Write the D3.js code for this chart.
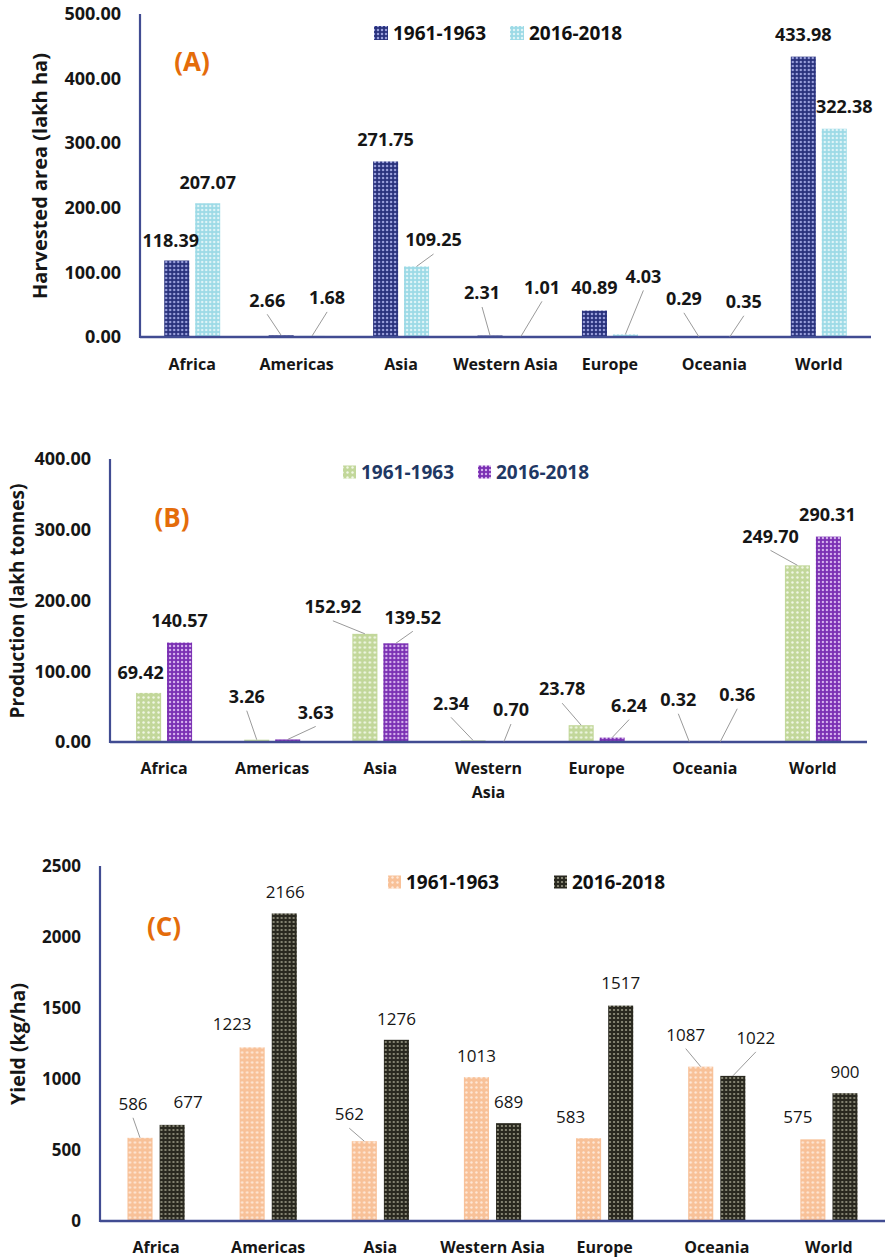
<!DOCTYPE html>
<html>
<head>
<meta charset="utf-8">
<script src="https://cdn.jsdelivr.net/npm/d3@7"></script>
<style>
  html, body { margin: 0; padding: 0; background: #fff; }
  svg { display: block; font-family: "Open Sans", "Noto Sans", sans-serif; }
</style>
</head>
<body>
<svg id="chart" width="885" height="1259"></svg>
<script>
// Regions and periods shared by the three panels
const regions = ["Africa", "Americas", "Asia", "Western Asia", "Europe", "Oceania", "World"];
const periods = ["1961-1963", "2016-2018"];

// (A) Harvested area, lakh ha
const areaEarly = [118.39, 2.66, 271.75, 2.31, 40.89, 0.29, 433.98];
const areaLate  = [207.07, 1.68, 109.25, 1.01, 4.03, 0.35, 322.38];
const areaTicks = [0, 100, 200, 300, 400, 500];

// (B) Production, lakh tonnes
const prodEarly = [69.42, 3.26, 152.92, 2.34, 23.78, 0.32, 249.70];
const prodLate  = [140.57, 3.63, 139.52, 0.70, 6.24, 0.36, 290.31];
const prodTicks = [0, 100, 200, 300, 400];

// (C) Yield, kg/ha
const yieldEarly = [586, 1223, 562, 1013, 583, 1087, 575];
const yieldLate  = [677, 2166, 1276, 689, 1517, 1022, 900];
const yieldTicks = [0, 500, 1000, 1500, 2000, 2500];

const svg = d3.select("#chart");
const defs = svg.append("defs");

// Dotted fills for the bars
function dotPattern(id, base, dot, size, r) {
  const p = defs.append("pattern").attr("id", id)
    .attr("patternUnits", "userSpaceOnUse").attr("width", size).attr("height", size);
  p.append("rect").attr("width", size).attr("height", size).attr("fill", base);
  p.append("circle").attr("cx", size / 2).attr("cy", size / 2).attr("r", r).attr("fill", dot);
  return `url(#${id})`;
}
const fills = {
  navy:   dotPattern("pNavy", "#28317c", "#9aa0dc", 4, 1.25),
  sky:    dotPattern("pSky", "#9cdae6", "#e0f5f8", 4, 1.25),
  green:  dotPattern("pGreen", "#c2d79a", "#f1f7e6", 5, 1.2),
  purple: dotPattern("pPurple", "#7a2fb3", "#d6b3ee", 4, 1.2),
  peach:  dotPattern("pPeach", "#f8c198", "#fee8d8", 5, 1.2),
  dark:   dotPattern("pDark", "#29281f", "#9a9985", 4, 1.1)
};
const legendFills = {
  navy: fills.navy, sky: fills.sky, green: fills.green, purple: fills.purple, peach: fills.peach, dark: fills.dark
};

const axisColor = "#414c92";
const labelColor = "#161616";

function drawPanel(cfg) {
  const g = svg.append("g");
  const y = d3.scaleLinear().domain(cfg.domain).range([cfg.bottom, cfg.top]);
  const x0 = d3.scaleBand().domain(regions).range([cfg.left, cfg.right])
    .paddingInner(cfg.pad).paddingOuter(cfg.pad / 2);
  const x1 = d3.scaleBand().domain(periods).range([0, x0.bandwidth()]).paddingInner(cfg.gap);

  // y tick labels (no tick marks, no gridlines)
  const yAxis = d3.axisLeft(y).tickValues(cfg.ticks).tickSize(0).tickPadding(0)
    .tickFormat(cfg.tickFormat);
  const ya = g.append("g").attr("transform", `translate(${cfg.tickX},0)`).call(yAxis);
  ya.select(".domain").remove();
  ya.selectAll("text").attr("font-size", cfg.tickSize).attr("font-weight", 700)
    .attr("fill", labelColor).attr("font-family", "Open Sans");

  // bars
  const rows = regions.map((r, i) => ({ region: r, vals: [cfg.early[i], cfg.late[i]] }));
  const grp = g.selectAll(".grp").data(rows).join("g")
    .attr("transform", d => `translate(${x0(d.region)},0)`);
  grp.selectAll("rect").data(d => d.vals.map((v, k) => ({ v, k }))).join("rect")
    .attr("x", d => x1(periods[d.k]))
    .attr("width", x1.bandwidth())
    .attr("y", d => y(d.v))
    .attr("height", d => cfg.bottom - y(d.v))
    .attr("fill", d => cfg.fills[d.k]);

  // axis lines
  g.append("line").attr("x1", cfg.left).attr("x2", cfg.left)
    .attr("y1", cfg.top).attr("y2", cfg.bottom + 1)
    .attr("stroke", axisColor).attr("stroke-width", 2.2);
  g.append("line").attr("x1", cfg.left).attr("x2", cfg.right)
    .attr("y1", cfg.bottom).attr("y2", cfg.bottom)
    .attr("stroke", axisColor).attr("stroke-width", 2.6);

  // category labels
  const xa = g.append("g").attr("transform", `translate(0,${cfg.catY})`)
    .call(d3.axisBottom(x0).tickSize(0).tickPadding(0));
  xa.select(".domain").remove();
  xa.selectAll("text").remove();
  xa.selectAll(".tick").each(function(d) {
    const t = d3.select(this).append("text").attr("text-anchor", "middle")
      .attr("font-size", 16).attr("font-weight", 700).attr("fill", labelColor)
      .attr("font-family", "Open Sans");
    const lines = cfg.wrap && d === "Western Asia" ? ["Western", "Asia"] : [d];
    lines.forEach((ln, j) => t.append("tspan").attr("x", 0).attr("y", j * 24).attr("dy", "0.35em").text(ln));
  });

  // value labels, with leader lines when the label sits well above its bar
  regions.forEach((r, i) => {
    [cfg.early[i], cfg.late[i]].forEach((v, k) => {
      const bx = x0(r) + x1(periods[k]) + x1.bandwidth() / 2;
      const by = y(v);
      const [dx, dy] = cfg.nudge[k][i];
      const lx = bx + dx, ly = by + dy;
      if (dy < -25) {
        g.append("line").attr("x1", lx).attr("y1", ly + 14).attr("x2", bx).attr("y2", by)
          .attr("stroke", "#9a9a9a").attr("stroke-width", 1);
      }
      g.append("text").attr("x", lx).attr("y", ly).attr("dy", "0.35em")
        .attr("text-anchor", "middle").attr("font-size", cfg.valueSize)
        .attr("font-weight", cfg.valueWeight).attr("fill", labelColor)
        .attr("font-family", "Open Sans")
        .text(cfg.valueFormat(v));
    });
  });

  // legend
  cfg.legend.forEach((L, k) => {
    g.append("rect").attr("x", L.x).attr("y", cfg.legendY - L.s / 2)
      .attr("width", L.s).attr("height", L.s).attr("fill", cfg.legendFills[k]);
    g.append("text").attr("x", L.x + L.s + 5).attr("y", cfg.legendY).attr("dy", "0.35em")
      .attr("font-size", 19).attr("font-weight", 700).attr("fill", cfg.legendColor)
      .attr("font-family", "Open Sans").text(periods[k]);
  });

  // panel tag
  g.append("text").attr("x", cfg.tag.x).attr("y", cfg.tag.y).attr("dy", "0.35em")
    .attr("text-anchor", "middle").attr("font-size", 26).attr("font-weight", 700)
    .attr("fill", "#e46c0a").attr("font-family", "Open Sans").text(cfg.tag.text);

  // y axis title
  g.append("text").attr("transform", `translate(${cfg.title.x},${cfg.title.y}) rotate(-90)`)
    .attr("dy", "0.35em").attr("text-anchor", "middle")
    .attr("font-size", cfg.title.size).attr("font-weight", 700).attr("fill", labelColor)
    .attr("font-family", "Open Sans").text(cfg.title.text);
}

drawPanel({
  domain: [0, 500], ticks: areaTicks, tickFormat: d3.format(".2f"),
  top: 14, bottom: 337, left: 140, right: 871, pad: 0.464, gap: 0.19,
  tickX: 121, tickSize: 18, catY: 364,
  early: areaEarly, late: areaLate,
  fills: [fills.navy, fills.sky], legendFills: [legendFills.navy, legendFills.sky],
  valueSize: 18, valueWeight: 700, valueFormat: d3.format(".2f"),
  nudge: [
    [[-6, -19.5], [-14, -35], [0, -21.5], [-8, -42.5], [0, -22.5], [-15, -38], [0, -21.7]],
    [[0, -21], [15, -38], [17, -26.4], [21, -49], [18, -58], [14, -35], [10, -22]]
  ],
  legendY: 33, legendColor: "#111",
  legend: [{ x: 374, s: 14 }, { x: 510, s: 14 }],
  tag: { x: 192, y: 62, text: "(A)" },
  title: { x: 40, y: 176, size: 20, text: "Harvested area (lakh ha)" }
});

drawPanel({
  domain: [0, 400], ticks: prodTicks, tickFormat: d3.format(".2f"),
  top: 459, bottom: 742, left: 110, right: 867, pad: 0.482, gap: 0.19,
  tickX: 91, tickSize: 18, catY: 768, wrap: true,
  early: prodEarly, late: prodLate,
  fills: [fills.green, fills.purple], legendFills: [legendFills.green, legendFills.purple],
  valueSize: 18, valueWeight: 700, valueFormat: d3.format(".2f"),
  nudge: [
    [[-8, -20], [-10, -43], [-32, -27], [-22, -37], [-19, -36], [-11, -42], [-27, -29]],
    [[0, -21.5], [28, -27], [17, -26], [7, -31.5], [17, -32], [17, -47], [-1, -21.6]]
  ],
  legendY: 472, legendColor: "#1f3864",
  legend: [{ x: 343, s: 13 }, { x: 478, s: 13 }],
  tag: { x: 172, y: 518, text: "(B)" },
  title: { x: 17, y: 601, size: 19, text: "Production (lakh tonnes)" }
});

drawPanel({
  domain: [0, 2500], ticks: yieldTicks, tickFormat: d3.format("d"),
  top: 866, bottom: 1221, left: 100, right: 885, pad: 0.49, gap: 0.22,
  tickX: 81, tickSize: 17, catY: 1247,
  early: yieldEarly, late: yieldLate,
  fills: [fills.peach, fills.dark], legendFills: [legendFills.peach, legendFills.dark],
  valueSize: 17, valueWeight: 400, valueFormat: d3.format("d"),
  nudge: [
    [[-7, -34], [-20, -23], [-15, -27], [0, -21], [-18, -21], [-15, -32], [-15, -22]],
    [[16, -23], [1, -21], [0, -21], [0, -21], [0, -22.6], [23, -38], [0, -21]]
  ],
  legendY: 882, legendColor: "#111",
  legend: [{ x: 388, s: 13 }, { x: 554, s: 13 }],
  tag: { x: 164, y: 927, text: "(C)" },
  title: { x: 18, y: 1044, size: 19.5, text: "Yield (kg/ha)" }
});
</script>
</body>
</html>
